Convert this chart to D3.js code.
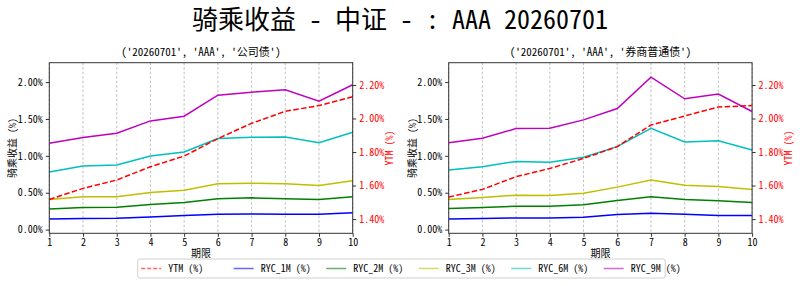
<!DOCTYPE html>
<html>
<head>
<meta charset="utf-8">
<script src="https://cdn.jsdelivr.net/npm/d3@7"></script>
<style>
  body { margin: 0; background: #fff; }
  svg { display: block; }
  text { font-family: "Noto Sans Mono CJK SC", "Noto Sans CJK SC", "DejaVu Sans Mono", monospace; }
</style>
</head>
<body>
<svg id="chart" width="800" height="286"></svg>
<script>
// data (percent)
var terms = [1, 2, 3, 4, 5, 6, 7, 8, 9, 10];
var seriesNames = ["RYC_1M (%)", "RYC_2M (%)", "RYC_3M (%)", "RYC_6M (%)", "RYC_9M (%)"];
var ytmName = "YTM (%)";

var corpYtm = [1.517, 1.583, 1.633, 1.712, 1.776, 1.880, 1.971, 2.043, 2.077, 2.130];
var corp1m = [0.145, 0.150, 0.154, 0.172, 0.190, 0.209, 0.213, 0.209, 0.209, 0.227];
var corp2m = [0.281, 0.300, 0.304, 0.340, 0.367, 0.417, 0.431, 0.417, 0.408, 0.444];
var corp3m = [0.408, 0.444, 0.444, 0.503, 0.535, 0.621, 0.630, 0.621, 0.599, 0.662];
var corp6m = [0.780, 0.862, 0.875, 0.998, 1.052, 1.234, 1.252, 1.256, 1.179, 1.320];
var corp9m = [1.170, 1.250, 1.306, 1.474, 1.537, 1.823, 1.864, 1.896, 1.741, 1.964];

var brokerYtm = [1.531, 1.577, 1.653, 1.702, 1.762, 1.832, 1.961, 2.015, 2.069, 2.077];
var broker1m = [0.145, 0.150, 0.159, 0.159, 0.168, 0.204, 0.222, 0.209, 0.190, 0.190];
var broker2m = [0.286, 0.300, 0.317, 0.317, 0.336, 0.395, 0.444, 0.408, 0.390, 0.367];
var broker3m = [0.408, 0.435, 0.467, 0.463, 0.494, 0.576, 0.671, 0.603, 0.585, 0.544];
var broker6m = [0.807, 0.853, 0.925, 0.912, 0.980, 1.125, 1.374, 1.188, 1.206, 1.079];
var broker9m = [1.179, 1.238, 1.370, 1.374, 1.488, 1.642, 2.068, 1.773, 1.837, 1.601];

var leftTicks = [0, 0.5, 1.0, 1.5, 2.0];
var rightTicks = [1.4, 1.6, 1.8, 2.0, 2.2];

var colors = ["#0000ff", "#008000", "#bfbf00", "#00bfbf", "#bf00bf"];
var ytmColor = "#ff0000";

var svg = d3.select("#chart");
var fmt = function(d) { return d3.format(".2f")(d) + "%"; };

// main title
svg.append("text")
	.attr("x", 400)
	.attr("y", 29)
	.attr("text-anchor", "middle")
	.style("font-size", "26px")
	.text("骑乘收益 - 中证 - : AAA 20260701");

function drawPanel(left, title, ytm, rycs) {
	var right = left + 303.4, top = 62.7, bottom = 233.3;
	var x = d3.scaleLinear().domain([1, 10]).range([left, right]);
	var yL = d3.scaleLinear().domain([-0.05, 2.263]).range([bottom, top]);
	var yR = d3.scaleLinear().domain([1.315, 2.333]).range([bottom, top]);

	var g = svg.append("g");

	// vertical grid
	g.append("g")
		.selectAll("line")
		.data(terms)
		.enter()
		.append("line")
		.attr("x1", function(d) { return x(d); })
		.attr("x2", function(d) { return x(d); })
		.attr("y1", top)
		.attr("y2", bottom)
		.attr("stroke", "#b0b0b0")
		.attr("stroke-width", 0.8)
		.attr("stroke-dasharray", "2.5,2");

	// ryc lines
	var lineL = d3.line()
		.x(function(d, i) { return x(terms[i]); })
		.y(function(d) { return yL(d); });
	g.append("g")
		.selectAll("path")
		.data(rycs)
		.enter()
		.append("path")
		.attr("d", function(d) { return lineL(d); })
		.attr("fill", "none")
		.attr("stroke", function(d, i) { return colors[i]; })
		.attr("stroke-width", 1.5);

	// ytm on twin axis
	var lineR = d3.line()
		.x(function(d, i) { return x(terms[i]); })
		.y(function(d) { return yR(d); });
	g.append("path")
		.attr("d", lineR(ytm))
		.attr("fill", "none")
		.attr("stroke", ytmColor)
		.attr("stroke-width", 1.5)
		.attr("stroke-dasharray", "5.5,2.4");

	// frame
	g.append("rect")
		.attr("x", left)
		.attr("y", top)
		.attr("width", right - left)
		.attr("height", bottom - top)
		.attr("fill", "none")
		.attr("stroke", "#333")
		.attr("stroke-width", 1);

	// axes
	var xAxis = g.append("g")
		.attr("transform", "translate(0," + bottom + ")")
		.call(d3.axisBottom(x).tickValues(terms).tickSize(3.5).tickPadding(2).tickFormat(d3.format("d")));
	var yAxisL = g.append("g")
		.attr("transform", "translate(" + left + ",0)")
		.call(d3.axisLeft(yL).tickValues(leftTicks).tickSize(3.5).tickPadding(3).tickFormat(fmt));
	var yAxisR = g.append("g")
		.attr("transform", "translate(" + right + ",0)")
		.call(d3.axisRight(yR).tickValues(rightTicks).tickSize(3.5).tickPadding(3).tickFormat(fmt));
	[xAxis, yAxisL, yAxisR].forEach(function(a) {
		a.select(".domain").remove();
		a.selectAll("text").style("font-size", "10px").attr("font-family", null);
		a.selectAll("line").attr("stroke", "#333");
	});
	yAxisR.selectAll("text").attr("fill", ytmColor);

	// labels
	g.append("text")
		.attr("x", (left + right) / 2)
		.attr("y", 56)
		.attr("text-anchor", "middle")
		.style("font-size", "11px")
		.text(title);
	g.append("text")
		.attr("x", (left + right) / 2)
		.attr("y", 257)
		.attr("text-anchor", "middle")
		.style("font-size", "10px")
		.text("期限");
	g.append("text")
		.attr("transform", "translate(" + (left - 33) + "," + ((top + bottom) / 2) + ") rotate(-90)")
		.attr("text-anchor", "middle")
		.style("font-size", "10px")
		.text("骑乘收益 (%)");
	g.append("text")
		.attr("transform", "translate(" + (right + 40) + "," + ((top + bottom) / 2) + ") rotate(-90)")
		.attr("text-anchor", "middle")
		.attr("fill", ytmColor)
		.style("font-size", "10px")
		.text(ytmName);
}

drawPanel(49.3, "('20260701', 'AAA', '公司债')", corpYtm, [corp1m, corp2m, corp3m, corp6m, corp9m]);
drawPanel(448.7, "('20260701', 'AAA', '券商普通债')", brokerYtm, [broker1m, broker2m, broker3m, broker6m, broker9m]);

// legend
var legendItems = [{ name: ytmName, color: ytmColor, dash: "4,2" }].concat(
	seriesNames.map(function(n, i) { return { name: n, color: colors[i], dash: null }; })
);
var legend = svg.append("g").attr("transform", "translate(137.7,259)");
legend.append("rect")
	.attr("width", 527.5)
	.attr("height", 19)
	.attr("rx", 2)
	.attr("fill", "#fff")
	.attr("fill-opacity", 0.8)
	.attr("stroke", "#d0d0d0")
	.attr("stroke-width", 1);
var item = legend.selectAll("g.item")
	.data(legendItems)
	.enter()
	.append("g")
	.attr("class", "item")
	.attr("transform", function(d, i) { return "translate(" + (3.5 + i * 92.5) + ",9.5)"; });
item.append("line")
	.attr("x1", 0)
	.attr("x2", 20)
	.attr("stroke", function(d) { return d.color; })
	.attr("stroke-opacity", 0.6)
	.attr("stroke-width", 1.5)
	.attr("stroke-dasharray", function(d) { return d.dash; });
item.append("text")
	.attr("x", 27)
	.attr("dy", "0.35em")
	.style("font-size", "10px")
	.text(function(d) { return d.name; });
</script>
</body>
</html>
